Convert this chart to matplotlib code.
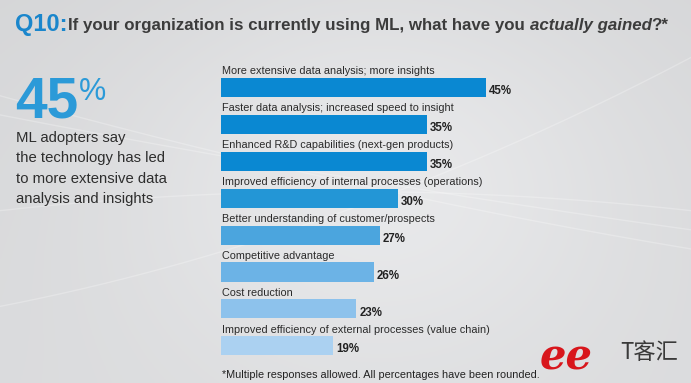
import numpy as np
import matplotlib
matplotlib.use("Agg")
import matplotlib.pyplot as plt

categories = [
    "More extensive data analysis; more insights",
    "Faster data analysis; increased speed to insight",
    "Enhanced R&D capabilities (next-gen products)",
    "Improved efficiency of internal processes (operations)",
    "Better understanding of customer/prospects",
    "Competitive advantage",
    "Cost reduction",
    "Improved efficiency of external processes (value chain)",
]
values = [45, 35, 35, 30, 27, 26, 23, 19]
value_labels = ["45%", "35%", "35%", "30%", "27%", "26%", "23%", "19%"]
bar_colors = ["#0a88d2", "#0a88d2", "#0a88d2", "#2396d6", "#4ba5de",
              "#6cb3e6", "#8dc2ec", "#abd1f1"]

W, H = 691, 383
plt.rcParams['font.family'] = ['Liberation Sans', 'DejaVu Sans']
fig = plt.figure(figsize=(W / 100, H / 100), dpi=100)

# background
bg = fig.add_axes([0, 0, 1, 1], zorder=-10)
xx, yy = np.meshgrid(np.linspace(0, 1, 300), np.linspace(0, 1, 200))
base = 0.855 + 0.065 * np.exp(-((xx - 0.55) ** 2 / 0.15 + (yy - 0.45) ** 2 / 0.3))
base -= 0.02 * (1 - yy)
img = np.dstack([base, base + 0.003, base + 0.01])
bg.imshow(np.clip(img, 0, 1), extent=[0, 1, 0, 1], aspect='auto', origin='upper')
t = np.linspace(0, 1, 200)
for k, (a, b, c) in enumerate([(0.75, -0.5, 0.1), (0.7, -0.35, 0.05), (0.2, 0.35, 0.3), (0.45, 0.2, -0.2)]):
    bg.plot(t, a + b * t + c * t ** 2, color='white', lw=1.0, alpha=0.25)
bg.set_xlim(0, 1); bg.set_ylim(0, 1)
bg.axis('off')

def px(x, y):
    return x / W, 1 - y / H

# title
fig.text(*px(15, 31), "Q10:", color="#1a86cc", fontsize=17, fontweight='bold',
         ha='left', va='baseline')
fig.canvas.draw()
r = fig.canvas.get_renderer()
segs = [("If your organization is currently using ML, what have you ", 'normal'),
        ("actually gained", 'italic'), ("?*", 'normal')]
x0 = 68
for s, st in segs:
    tt = fig.text(*px(x0, 30), s, color="#3c3c3c", fontsize=12.15, fontweight='bold',
                  style=st, ha='left', va='baseline')
    bb = tt.get_window_extent(r)
    x0 += bb.width

# left callout
fig.text(*px(15, 117), "45", color="#2b9ad8", fontsize=41, fontweight='bold',
         ha='left', va='baseline')
fig.text(*px(79, 100), "%", color="#2b9ad8", fontsize=22, fontweight='normal',
         ha='left', va='baseline')
for i, line in enumerate(["ML adopters say", "the technology has led",
                          "to more extensive data", "analysis and insights"]):
    fig.text(*px(16, 142 + 20.3 * i), line, color="#2e2e2e", fontsize=10.7,
             ha='left', va='baseline')

# bars
top_px, bot_px = 32.15, 364.25
ax = fig.add_axes([221 / W, (H - bot_px) / H, 471 / W, (bot_px - top_px) / H])
ax.set_facecolor('none')
y = np.arange(len(values))
ax.barh(y, values, height=0.52, color=bar_colors, align='center')
for i, (v, lab, cat) in enumerate(zip(values, value_labels, categories)):
    ax.text(0.1, i - 0.3, cat, fontsize=7.8, color="#2a2a2a", ha='left', va='bottom')
    ax.text(v + 0.5, i + 0.1, lab, fontsize=8.3, fontweight='bold', color="#222222",
            ha='left', va='center')
ax.set_xlim(0, 80)
ax.set_ylim(7.5, -1.5)
ax.axis('off')

# footnote
fig.text(*px(222, 378), "*Multiple responses allowed. All percentages have been rounded.",
         fontsize=7.8, color="#222222", ha='left', va='baseline')

# logo
fig.text(*px(540, 370), "ee", fontsize=30, color="#d8161c", fontweight='bold',
         style='italic', family=['DejaVu Serif'], ha='left', va='baseline')
fig.text(*px(620, 359), "T客汇", fontsize=16, color="#3a3a3a",
         family=['Noto Sans CJK SC', 'DejaVu Sans'], ha='left', va='baseline')

fig.savefig("out.png", dpi=100)
